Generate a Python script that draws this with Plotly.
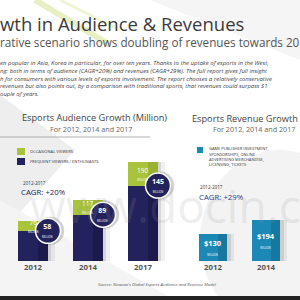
import plotly.graph_objects as go

# ---- data ----
years = ["2012", "2014", "2017"]
occasional = [76, 117, 190]
frequent = [58, 89, 145]
revenue = [130, 194, 465]
rev_labels = ["$130", "$194", "$465"]

title = "wth in Audience &amp; Revenues"
subtitle = "rative scenario shows doubling of revenues towards 2017"
body_lines = [
    "en popular in Asia, Korea in particular, for over ten years. Thanks to the uptake of esports in the West,",
    "ng: both in terms of audience (CAGR+20%) and revenues (CAGR+29%). The full report gives full insight",
    "h for consumers with various levels of esports involvement. The report chooses a relatively conservative",
    "revenues but also points out, by a comparison with traditional sports, that revenues could surpass $1",
    "ouple of years.",
]
rev_legend = ["GAME PUBLISHER INVESTMENT,", "SPONSORSHIPS, ONLINE", "ADVERTISING MERCHANDISE,", "LICENSING, TICKETS"]

GREEN, GREEN_D = "#a9c43c", "#9ab232"
NAVY, NAVY_D = "#24225c", "#1c1a4c"
BLUE, BLUE_D = "#1b88b6", "#16779f"
FONT = "Open Sans"

idx = list(range(len(years)))
W = 0.545
fig = go.Figure()

# shadows
for sh, op in [(0.06, 0.10), (0.12, 0.06)]:
    fig.add_trace(go.Bar(x=[i + sh for i in idx], y=occasional, width=W, marker=dict(color="rgba(0,0,0,%s)" % op, line_width=0),
                         xaxis="x", yaxis="y", hoverinfo="skip", showlegend=False))
    fig.add_trace(go.Bar(x=[i + sh for i in idx], y=revenue, width=W, marker=dict(color="rgba(0,0,0,%s)" % op, line_width=0),
                         xaxis="x2", yaxis="y2", hoverinfo="skip", showlegend=False))

fig.add_trace(go.Bar(x=idx, y=occasional, width=W, marker=dict(color=GREEN, line_width=0), xaxis="x", yaxis="y", showlegend=False))
fig.add_trace(go.Bar(x=idx, y=occasional, width=0.18, offset=0.09, marker=dict(color=GREEN_D, line_width=0), xaxis="x", yaxis="y", showlegend=False))
fig.add_trace(go.Bar(x=idx, y=frequent, width=W, marker=dict(color=NAVY, line_width=0), xaxis="x", yaxis="y", showlegend=False))
fig.add_trace(go.Bar(x=idx, y=frequent, width=0.18, offset=0.09, marker=dict(color=NAVY_D, line_width=0), xaxis="x", yaxis="y", showlegend=False))

fig.add_trace(go.Bar(x=idx, y=revenue, width=W, marker=dict(color=BLUE, line_width=0), xaxis="x2", yaxis="y2", showlegend=False))
fig.add_trace(go.Bar(x=idx, y=revenue, width=0.18, offset=0.09, marker=dict(color=BLUE_D, line_width=0), xaxis="x2", yaxis="y2", showlegend=False))

# circles
cx = [i + W / 2 for i in idx]
fig.add_trace(go.Scatter(x=[c + 0.04 for c in cx], y=frequent, mode="markers", xaxis="x", yaxis="y",
                         marker=dict(size=28, color="rgba(0,0,0,0.18)", line_width=0), hoverinfo="skip", showlegend=False))
fig.add_trace(go.Scatter(x=cx, y=frequent, mode="markers", xaxis="x", yaxis="y",
                         marker=dict(size=25, color=NAVY, line=dict(color="white", width=1.5)), showlegend=False))

MIL = "<br><span style='font-size:2.6px'>MILLION</span>"
annotations = []
for i, (o, f) in enumerate(zip(occasional, frequent)):
    annotations.append(dict(x=cx[i], y=f, xref="x", yref="y", text="<b>%d</b>%s" % (f, MIL), showarrow=False,
                            font=dict(family=FONT, size=7, color="white"), yshift=0, borderpad=0, borderwidth=0))
    annotations.append(dict(x=i, y=(o + f) / 2, xref="x", yref="y", text="%d%s" % (o, MIL), showarrow=False,
                            font=dict(family=FONT, size=6.5, color="white"), yshift=0, borderpad=0, borderwidth=0))
for i, r in enumerate(revenue):
    annotations.append(dict(x=i, y=r / 2, xref="x2", yref="y2", text="<b>%s</b>%s" % (rev_labels[i], MIL), showarrow=False,
                            font=dict(family=FONT, size=7.5, color="white"), yshift=0, borderpad=0, borderwidth=0))

def txt(x, y, t, size, color="#444", anchor="left", xshift=0):
    annotations.append(dict(x=x / 300, y=1 - y / 300, xref="paper", yref="paper", text=t, showarrow=False,
                            xanchor=anchor, yanchor="middle", borderpad=0, borderwidth=0, xshift=xshift,
                            align=anchor if anchor != "center" else "center",
                            font=dict(family=FONT, size=size, color=color)))

txt(0, 23, title, 18.5, "#3b3b3b")
txt(0, 42, subtitle, 11.7, "#555")
txt(0, 78, "<br>".join("<i>%s</i>" % l for l in body_lines), 6, "#444")

txt(22, 117, "Esports Audience Growth (Million)", 9.2, "#444")
txt(50, 129, "For 2012, 2014 and 2017", 7.2, "#666")
txt(192, 118, "Esports Revenue Growth (Million)", 9.2, "#444")
txt(213, 129, "For 2012, 2014 and 2017", 7.2, "#666")

txt(30, 151, "OCCASIONAL VIEWERS", 4.1, "#333")
txt(30, 161, "FREQUENT VIEWERS / ENTHUSIASTS", 4.1, "#333")
for k, l in enumerate(rev_legend):
    txt(209, 149 + k * 5.2, l, 4.0, "#333")

txt(23, 183, "2012-2017", 4.6, "#333")
txt(21, 192, "CAGR: +20%", 7.8, NAVY)
txt(200, 187, "2012-2017", 4.6, "#333")
txt(199, 197, "CAGR: +29%", 7.8, "#2b3a86")

txt(157, 284, "<i>Source: Newzoo's Global Esports Audience and Revenue Model</i>", 4.3, "#555", anchor="center")

# watermark
txt(200, 205, "www.docin.com", 46, "rgba(150,150,150,0.18)", anchor="center")

shapes = [
    # background decor
    dict(type="path", path="M 0 95 L 75 150 L 0 235 Z", fillcolor="#eeeeee", line_width=0, layer="below"),
    dict(type="path", path="M 0 200 L 175 300 L 0 300 Z", fillcolor="#f4f4f4", line_width=0, layer="below"),
    dict(type="path", path="M 150 0 L 300 0 L 300 60 Z", fillcolor="#f5f5f5", line_width=0, layer="below"),
    dict(type="circle", x0=200, x1=360, y0=150, y1=330, fillcolor="#f3f3f3", line_width=0, layer="below"),
    dict(type="line", x0=35, y0=0, x1=110, y1=45, line=dict(color="rgba(190,210,80,0.35)", width=6), layer="below"),
    dict(type="line", x0=60, y0=0, x1=120, y1=30, line=dict(color="rgba(190,210,80,0.25)", width=3), layer="below"),
    # separator
    dict(type="line", x0=0, y0=137, x1=150, y1=137, line=dict(color="#9a9a9a", width=0.8)),
    # legend squares
    dict(type="rect", x0=17, x1=25, y0=148, y1=155, fillcolor=GREEN, line_width=0),
    dict(type="rect", x0=17, x1=25, y0=158, y1=165, fillcolor=NAVY, line_width=0),
    dict(type="rect", x0=197, x1=203, y0=147, y1=153, fillcolor=BLUE, line_width=0),
    # bottom strip
    dict(type="rect", x0=0, x1=300, y0=296, y1=300, fillcolor="#222222", line_width=0),
]
for s in shapes:
    s["xref"] = "paper"
    s["yref"] = "paper"
    for key in ("x0", "x1"):
        if key in s:
            s[key] = s[key] / 300
    for key in ("y0", "y1"):
        if key in s:
            s[key] = 1 - s[key] / 300
    if s["type"] == "path":
        parts = s["path"].split()
        out, j = [], 0
        while j < len(parts):
            if parts[j] in "MLZ":
                out.append(parts[j]); j += 1
            else:
                out.append("%f,%f" % (float(parts[j]) / 300, 1 - float(parts[j + 1]) / 300)); j += 2
        s["path"] = " ".join(out)

ydom = [1 - 261 / 300, 1 - 100 / 300]
axis_common = dict(showgrid=False, zeroline=False, showline=False, ticks="",
                   tickfont=dict(family=FONT, size=7.8, color="#555"))
fig.update_layout(
    width=300, height=300, margin=dict(l=0, r=0, t=0, b=0),
    paper_bgcolor="white", plot_bgcolor="rgba(0,0,0,0)",
    barmode="overlay", bargap=0,
    xaxis=dict(domain=[0, 0.6], range=[-0.6, 2.673], tickvals=idx, ticktext=["<b>%s</b>" % y for y in years], **axis_common),
    xaxis2=dict(domain=[0.6, 1], range=[-0.623, 1.642], tickvals=idx, ticktext=["<b>%s</b>" % y for y in years], anchor="y2", **axis_common),
    yaxis=dict(domain=ydom, range=[0, 309.6], visible=False),
    yaxis2=dict(domain=ydom, range=[0, 766.7], visible=False, anchor="x2"),
    annotations=annotations, shapes=shapes,
)
fig.write_html("out.html")
